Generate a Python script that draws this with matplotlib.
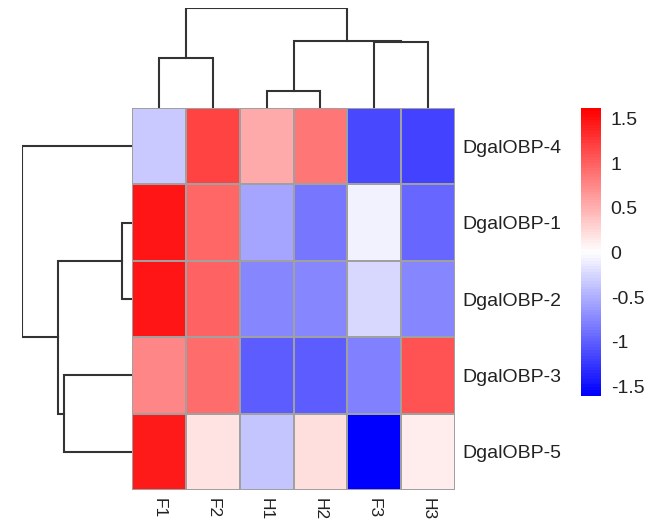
import numpy as np
import matplotlib
matplotlib.use("Agg")
import matplotlib.pyplot as plt
from matplotlib.colors import LinearSegmentedColormap

plt.rcParams['font.family'] = ['Liberation Sans', 'DejaVu Sans']
plt.rcParams['axes.unicode_minus'] = False

# row-scaled values, in display order (after clustering)
genes = ["DgalOBP-4", "DgalOBP-1", "DgalOBP-2", "DgalOBP-3", "DgalOBP-5"]
samples = ["F1", "F2", "H1", "H2", "F3", "H3"]
values = np.array([
    [-0.32, 1.20, 0.53, 0.85, -1.14, -1.19],
    [1.46, 0.97, -0.57, -0.85, -0.06, -0.96],
    [1.48, 1.00, -0.76, -0.76, -0.25, -0.76],
    [0.75, 0.91, -1.00, -1.00, -0.80, 1.10],
    [1.44, 0.19, -0.38, 0.23, -1.62, 0.13],
])

# linkage: (left id, right id, height); leaves are 0..n-1 in display order
col_merges = [(2, 3, 1.7), (0, 1, 5.0), (4, 5, 6.6), (6, 8, 6.7), (7, 9, 10.0)]
row_merges = [(1, 2, 0.9), (3, 4, 6.2), (5, 6, 6.7), (0, 7, 10.0)]

cbar_ticks = [-1.5, -1, -0.5, 0, 0.5, 1, 1.5]
cbar_labels = ["-1.5", "-1", "-0.5", "0", "0.5", "1", "1.5"]
vmin, vmax = -1.61, 1.62

W, H = 659, 523
TXT = "#222222"


def px_axes(fig, left, top, right, bottom):
    # pixel box -> figure fraction axes
    return fig.add_axes([left / W, 1 - bottom / H, (right - left) / W, (bottom - top) / H])


def dendro_segments(n_leaves, merges):
    pos = {i: i + 0.5 for i in range(n_leaves)}
    hgt = {i: 0.0 for i in range(n_leaves)}
    segs = []
    for k, (a, b, h) in enumerate(merges):
        segs.append(([pos[a], pos[a], pos[b], pos[b]], [hgt[a], h, h, hgt[b]]))
        new = n_leaves + k
        pos[new] = (pos[a] + pos[b]) / 2
        hgt[new] = h
    return segs


fig = plt.figure(figsize=(W / 100, H / 100), dpi=100)

cmap = LinearSegmentedColormap.from_list("bwr_ph", ["#0000ff", "#ffffff", "#ff0000"], N=100)

# heatmap
ax = px_axes(fig, 132, 108, 455, 490)
mesh = ax.pcolormesh(values, cmap=cmap, vmin=vmin, vmax=vmax,
                     edgecolors="#a0a0a0", linewidth=1.2)
ax.set_xlim(0, len(samples))
ax.set_ylim(len(genes), 0)
for s in ax.spines.values():
    s.set_visible(False)
ax.set_xticks(np.arange(len(samples)) + 0.5)
ax.set_xticklabels(samples, rotation=270, fontsize=12.5, color=TXT)
ax.set_yticks(np.arange(len(genes)) + 0.5)
ax.set_yticklabels(genes, fontsize=14, color=TXT)
ax.yaxis.tick_right()
ax.tick_params(axis="y", length=0, pad=5)
ax.tick_params(axis="x", length=0, pad=6)

# column dendrogram
axc = px_axes(fig, 132, 8, 455, 108)
for xs, ys in dendro_segments(len(samples), col_merges):
    axc.plot(xs, ys, color="#333333", lw=1.5, solid_joinstyle="miter")
axc.set_xlim(0, len(samples))
axc.set_ylim(0, 10.0)
axc.axis("off")

# row dendrogram
axr = px_axes(fig, 22, 108, 132, 490)
for ys, xs in dendro_segments(len(genes), row_merges):
    axr.plot(xs, ys, color="#333333", lw=1.5, solid_joinstyle="miter")
axr.set_ylim(len(genes), 0)
axr.set_xlim(10.0, 0)
axr.axis("off")

# colorbar
axb = px_axes(fig, 581, 108, 601, 396)
cb = fig.colorbar(mesh, cax=axb)
cb.outline.set_visible(False)
cb.set_ticks(cbar_ticks)
cb.set_ticklabels(cbar_labels)
axb.tick_params(length=0, pad=7, labelsize=14, labelcolor=TXT)

fig.savefig("out.png", dpi=100)
